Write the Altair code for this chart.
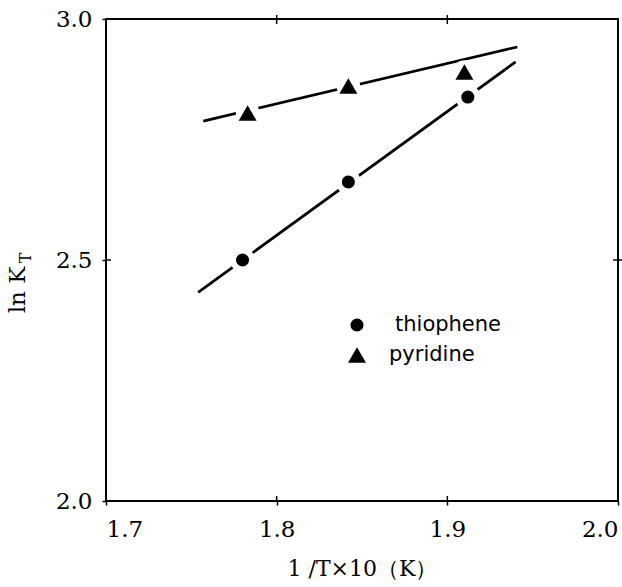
import altair as alt
import pandas as pd

series = ["thiophene", "pyridine"]
thio_x = [1.780, 1.842, 1.912]
thio_y = [2.500, 2.662, 2.838]
pyr_x = [1.783, 1.842, 1.910]
pyr_y = [2.805, 2.861, 2.890]
thio_fit_x = [1.754, 1.940]
thio_fit_y = [2.433, 2.911]
pyr_fit_x = [1.757, 1.941]
pyr_fit_y = [2.788, 2.942]
x_ticks = [1.7, 1.8, 1.9, 2.0]
y_ticks = [2.0, 2.5, 3.0]
x_inner_ticks = [1.8, 1.9]
y_inner_ticks = [2.5]

thio = pd.DataFrame({"x": thio_x, "y": thio_y, "s": [series[0]] * len(thio_x)})
pyr = pd.DataFrame({"x": pyr_x, "y": pyr_y, "s": [series[1]] * len(pyr_x)})
pts = pd.concat([thio, pyr], ignore_index=True)
thio_fit = pd.DataFrame({"x": thio_fit_x, "y": thio_fit_y})
pyr_fit = pd.DataFrame({"x": pyr_fit_x, "y": pyr_fit_y})

xs = alt.Scale(domain=[1.7, 2.0], nice=False, zero=False)
ys = alt.Scale(domain=[2.0, 3.0], nice=False, zero=False)

X_bottom = alt.X("x:Q", scale=xs, axis=alt.Axis(
    values=x_ticks, format=".1f", title="1 /T×10（K）", labelFlush=True,
    labelPadding=13, titleY=67, titleBaseline="middle"))
Y_left = alt.Y("y:Q", scale=ys, axis=alt.Axis(
    values=y_ticks, format=".1f", title=None, labelPadding=10))
X_ = alt.X("x:Q", scale=xs)
Y_ = alt.Y("y:Q", scale=ys)

line_t = alt.Chart(thio_fit).mark_line(color="black", strokeWidth=2.7).encode(x=X_bottom, y=Y_left)
line_p = alt.Chart(pyr_fit).mark_line(color="black", strokeWidth=2.7).encode(x=X_, y=Y_)

# white halos that break the fitted lines around each marker
halo_c = alt.Chart(thio).mark_circle(color="white", opacity=1, size=620).encode(x=X_, y=Y_)
halo_t = alt.Chart(pyr).mark_circle(color="white", opacity=1, size=560).encode(x=X_, y=Y_)

marks = alt.Chart(pts).mark_point(filled=True, color="black", opacity=1).encode(
    x=X_, y=Y_,
    shape=alt.Shape("s:N", scale=alt.Scale(domain=series, range=["circle", "triangle-up"]), legend=None),
    size=alt.Size("s:N", scale=alt.Scale(domain=series, range=[170, 324]), legend=None),
)

top_ticks = alt.Chart(pd.DataFrame({"x": x_inner_ticks})).mark_rule(color="black", strokeWidth=1.5).encode(
    x=X_, y=alt.value(-4), y2=alt.value(5))
bottom_in = alt.Chart(pd.DataFrame({"x": x_inner_ticks})).mark_rule(color="black", strokeWidth=1.5).encode(
    x=X_, y=alt.value(477), y2=alt.value(482))
right_ticks = alt.Chart(pd.DataFrame({"y": y_inner_ticks})).mark_rule(color="black", strokeWidth=1.5).encode(
    y=Y_, x=alt.value(507), x2=alt.value(516))
left_in = alt.Chart(pd.DataFrame({"y": y_inner_ticks})).mark_rule(color="black", strokeWidth=1.5).encode(
    y=Y_, x=alt.value(0), x2=alt.value(5))

layers = [line_t, line_p, halo_c, halo_t, marks, top_ticks, bottom_in, right_ticks, left_in]

# manual legend
for name, shp, sz, sy, tx in zip(series, ["circle", "triangle-up"], [170, 324], [306, 336], [289, 283]):
    d = pd.DataFrame({"s": [name]})
    layers.append(alt.Chart(d).mark_point(shape=shp, filled=True, color="black", opacity=1, size=sz).encode(
        x=alt.value(251), y=alt.value(sy)))
    layers.append(alt.Chart(d).mark_text(align="left", baseline="middle", font="DejaVu Sans",
                                         fontSize=21, color="black").encode(
        x=alt.value(tx), y=alt.value(sy), text="s:N"))

# y title "ln K_T"
layers.append(alt.Chart(pd.DataFrame({"t": ["ln K"]})).mark_text(
    angle=270, align="center", baseline="middle", font="DejaVu Serif", fontSize=23, color="black").encode(
    x=alt.value(-88), y=alt.value(271), text="t:N"))
layers.append(alt.Chart(pd.DataFrame({"t": ["T"]})).mark_text(
    angle=270, align="center", baseline="middle", font="DejaVu Serif", fontSize=16, color="black").encode(
    x=alt.value(-80), y=alt.value(239), text="t:N"))

chart = alt.layer(*layers).properties(
    width=512, height=482, autosize="none",
    padding={"left": 106, "top": 19, "right": 4, "bottom": 86},
).configure_view(stroke="black", strokeWidth=2).configure_axis(
    domain=False, grid=False, tickColor="black", tickSize=4, tickWidth=1.5,
    labelFont="DejaVu Serif", labelFontSize=23, labelColor="black",
    titleFont="DejaVu Serif", titleFontSize=22, titleFontWeight="normal", titleColor="black",
)

chart.save("out.html", embed_options={"renderer": "svg", "actions": False})
